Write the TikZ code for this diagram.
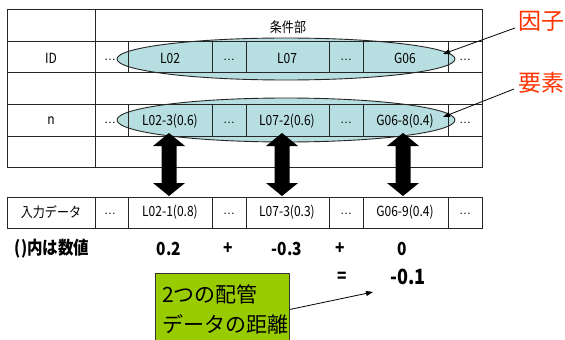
\documentclass[tikz,border=0pt]{standalone}
\usepackage{fontspec}
\setmainfont{Noto Sans CJK JP}
\newfontfamily\jpn[FakeStretch=0.86]{Noto Sans CJK JP}
\newfontfamily\latn{Liberation Sans}
\usetikzlibrary{arrows.meta}
\definecolor{ellfill}{HTML}{B7DEE0}
\definecolor{lblred}{HTML}{FF3300}
\definecolor{boxgreen}{HTML}{99CC00}
\tikzset{
  grid/.style={line width=0.9pt, draw=black!85},
  ell/.style={fill=ellfill, draw=black!85, line width=0.9pt},
  cell/.style={font=\jpn\fontsize{14}{16}\selectfont, inner sep=0pt},
  dotcell/.style={font=\latn\fontsize{12}{14}\selectfont, inner sep=0pt},
  redlbl/.style={font=\fontsize{23}{26}\selectfont, text=lblred, inner sep=0pt},
  num/.style={font=\jpn\bfseries\fontsize{18}{20}\selectfont, inner sep=0pt},
  pointer/.style={-{Triangle[length=7pt,width=5pt]}, line width=0.8pt},
  gbox/.style={fill=boxgreen, draw=black!80, line width=0.9pt},
}
\newcommand\dblarw[1]{%
  \fill (#1,133) -- (#1+16,146) -- (#1+7.5,146) -- (#1+7.5,183) -- (#1+16,183)
    -- (#1,196) -- (#1-16,183) -- (#1-7.5,183) -- (#1-7.5,146) -- (#1-16,146) -- cycle;}
\begin{document}
\begin{tikzpicture}[x=1pt,y=-1pt]
\useasboundingbox (0,0) rectangle (565,340);
\clip (0,0) rectangle (565,340);
% ellipses
\path[ell] (286,59) ellipse [x radius=169pt, y radius=21pt];
\path[ell] (286,120) ellipse [x radius=169pt, y radius=22pt];
% top table
\draw[grid] (7,9) rectangle (482,167);
\foreach \yy in {41,72,104,136} \draw[grid] (7,\yy) -- (482,\yy);
\draw[grid] (95,9) -- (95,167);
\foreach \xx in {128,212,246,329,363,448} {
  \draw[grid] (\xx,41) -- (\xx,72);
  \draw[grid] (\xx,104) -- (\xx,136);
}
\node[cell] (hdr) at (288,27) {条件部};
\node[cell] (id) at (51,58) {ID};
\node[dotcell] (d1) at (110,60) {…};
\node[cell] (l02) at (170,58) {L02};
\node[dotcell] (d2) at (229,60) {…};
\node[cell] (l07) at (287,58) {L07};
\node[dotcell] (d3) at (346,60) {…};
\node[cell] (g06) at (405,58) {G06};
\node[dotcell] (d4) at (465,60) {…};
\node[cell] (n) at (51,121) {n};
\node[dotcell] (e1) at (110,123) {…};
\node[cell] (e2) at (170,121) {L02-3(0.6)};
\node[dotcell] (e3) at (229,123) {…};
\node[cell] (e4) at (287,121) {L07-2(0.6)};
\node[dotcell] (e5) at (346,123) {…};
\node[cell] (e6) at (405,121) {G06-8(0.4)};
\node[dotcell] (e7) at (465,123) {…};
% labels
\node[redlbl] (inshi) at (541,21) {因子};
\node[redlbl] (yoso) at (541,83) {要素};
\coordinate (p1) at (443,54);
\coordinate (p2) at (443,117);
\draw[pointer] (515,28) -- (p1);
\draw[pointer] (514,89) -- (p2);
% double arrows
\dblarw{169}
\dblarw{282}
\dblarw{403}
% input row
\draw[grid] (7,197) rectangle (482,228);
\foreach \xx in {95,128,212,246,329,363,448} \draw[grid] (\xx,197) -- (\xx,228);
\node[cell] (in0) at (51,212) {入力データ};
\node[dotcell] (in1) at (110,214) {…};
\node[cell] (in2) at (170,212) {L02-1(0.8)};
\node[dotcell] (in3) at (229,214) {…};
\node[cell] (in4) at (287,212) {L07-3(0.3)};
\node[dotcell] (in5) at (346,214) {…};
\node[cell] (in6) at (405,212) {G06-9(0.4)};
\node[dotcell] (in7) at (465,214) {…};
% numbers
\node[num] (note) at (52,249) {()内は数値};
\node[num] (v1) at (169,249) {0.2};
\node[num] (op1) at (228,249) {+};
\node[num] (v2) at (287,249) {-0.3};
\node[num] (op2) at (340,249) {+};
\node[num] (v3) at (402,249) {0};
\node[num] (eq) at (342,277) {=};
\node[num, font=\jpn\bfseries\fontsize{21}{23}\selectfont] (res) at (408,277) {-0.1};
% green box
\node[gbox, anchor=north west, minimum width=134pt, minimum height=72pt, inner sep=0pt] (box) at (155,273) {};
\node[anchor=west, inner sep=0pt, font=\fontsize{21}{24}\selectfont] (bt1) at (162,294) {2つの配管};
\node[anchor=west, inner sep=0pt, font=\fontsize{21}{24}\selectfont] (bt2) at (162,324) {データの距離};
\coordinate (p3) at (373,292);
\draw[pointer] (box.east) -- (p3);
\end{tikzpicture}
\end{document}
